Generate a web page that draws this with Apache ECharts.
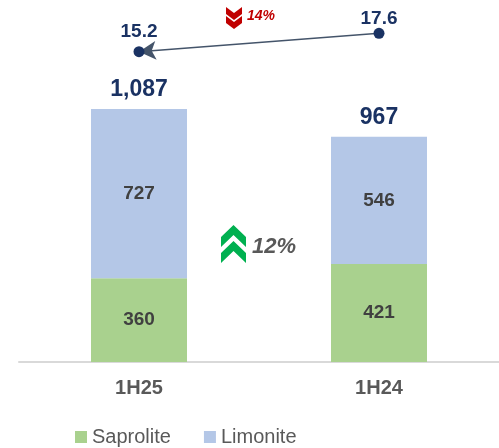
<!DOCTYPE html>
<html>
<head>
<meta charset="utf-8">
<script src="https://cdn.jsdelivr.net/npm/echarts@6/dist/echarts.min.js"></script>
<style>
  html, body { margin: 0; padding: 0; background: #fff; }
  #main { width: 499px; height: 448px; }
</style>
</head>
<body>
<div id="main"></div>
<script>
// data
const periods = ['1H25', '1H24']
const saprolite = [360, 421]
const limonite = [727, 546]
const totals = [1087, 967]
const ratio = [15.2, 17.6]      // top line values
const changeRatio = '14%'
const changeTotal = '12%'

const FONT = '"Liberation Sans", Arial, sans-serif'
const NAVY = '#1a3263'

const chart = echarts.init(document.getElementById('main'), null, { renderer: 'canvas' })

const option = {
  animation: false,
  textStyle: { fontFamily: FONT },
  grid: [
    { left: 19, right: 0, top: 82.6, bottom: 86 },
    { left: 19, right: 0, top: 22.6, height: 38.3 }
  ],
  legend: {
    data: ['Saprolite', 'Limonite'],
    left: 75,
    top: 427,
    padding: 0,
    icon: 'rect',
    itemWidth: 12,
    itemHeight: 12,
    itemGap: 33,
    textStyle: { fontSize: 20, color: '#595959', fontFamily: FONT }
  },
  xAxis: [{
    type: 'category',
    gridIndex: 0,
    data: periods,
    axisTick: { show: false },
    axisLine: { lineStyle: { color: '#d9d9d9', width: 2 } },
    axisLabel: { fontSize: 20, fontWeight: 'bold', color: '#595959', margin: 16, fontFamily: FONT }
  }, {
    type: 'category',
    gridIndex: 1,
    data: periods,
    show: false
  }],
  yAxis: [{
    type: 'value',
    gridIndex: 0,
    min: 0,
    max: 1200,
    show: false,
    splitLine: { show: false }
  }, {
    type: 'value',
    gridIndex: 1,
    min: 14,
    max: 19,
    show: false,
    splitLine: { show: false }
  }],
  series: [
    {
      name: 'Saprolite',
      type: 'bar',
      stack: 'ore',
      barWidth: 96,
      data: saprolite,
      itemStyle: { color: '#a9d18e' },
      label: { show: true, position: 'inside', fontSize: 19, fontWeight: 'bold', color: '#404040', fontFamily: FONT }
    },
    {
      name: 'Limonite',
      type: 'bar',
      stack: 'ore',
      barWidth: 96,
      barGap: '-100%',
      data: limonite,
      itemStyle: { color: '#b4c7e7' },
      label: { show: true, position: 'inside', fontSize: 19, fontWeight: 'bold', color: '#404040', fontFamily: FONT }
    },
    {
      // totals above bars (invisible overlay bar)
      name: 'Total',
      type: 'bar',
      barWidth: 96,
      barGap: '-100%',
      z: 1,
      data: totals,
      itemStyle: { color: 'rgba(255,255,255,0)' },
      silent: true,
      label: {
        show: true,
        position: 'top',
        distance: 8,
        fontSize: 23,
        fontWeight: 'bold',
        color: NAVY,
        fontFamily: FONT,
        formatter: p => p.value.toLocaleString('en-US')
      }
    },
    {
      name: 'Ratio',
      type: 'line',
      xAxisIndex: 1,
      yAxisIndex: 1,
      z: 5,
      data: ratio.map((v, i) => ({ value: v, label: { distance: i === 1 ? 0 : 5 } })),
      symbol: 'circle',
      symbolSize: 11,
      itemStyle: { color: NAVY },
      lineStyle: { opacity: 0 },
      label: { show: true, position: 'top', fontSize: 19, fontWeight: 'bold', color: NAVY, fontFamily: FONT },
      markLine: {
        silent: true,
        symbol: ['none', 'arrow'],
        symbolSize: [14, 17],
        label: { show: false },
        lineStyle: { color: '#44546a', width: 1.5, type: 'solid' },
        data: [[{ coord: [1, ratio[1]] }, { coord: [0, ratio[0]] }]]
      }
    }
  ],
  graphic: [
    // red double chevron down
    { type: 'polygon', shape: { points: [[226, 7], [234, 13], [242, 7], [242, 14], [234, 20], [226, 14]] }, style: { fill: '#c00000' } },
    { type: 'polygon', shape: { points: [[226, 16], [234, 22], [242, 16], [242, 23], [234, 29], [226, 23]] }, style: { fill: '#c00000' } },
    { type: 'text', left: 247, top: 9, style: { text: changeRatio, fontSize: 14, fontWeight: 'bold', fontStyle: 'italic', fill: '#c00000', fontFamily: FONT } },
    // green double chevron up
    { type: 'polygon', shape: { points: [[221, 237], [233.5, 225], [246, 237], [246, 247], [233.5, 235], [221, 247]] }, style: { fill: '#00b050' } },
    { type: 'polygon', shape: { points: [[221, 253], [233.5, 241], [246, 253], [246, 263], [233.5, 251], [221, 263]] }, style: { fill: '#00b050' } },
    { type: 'text', left: 252, top: 236, style: { text: changeTotal, fontSize: 22, fontWeight: 'bold', fontStyle: 'italic', fill: '#595959', fontFamily: FONT } }
  ]
}

chart.setOption(option)
</script>
</body>
</html>
